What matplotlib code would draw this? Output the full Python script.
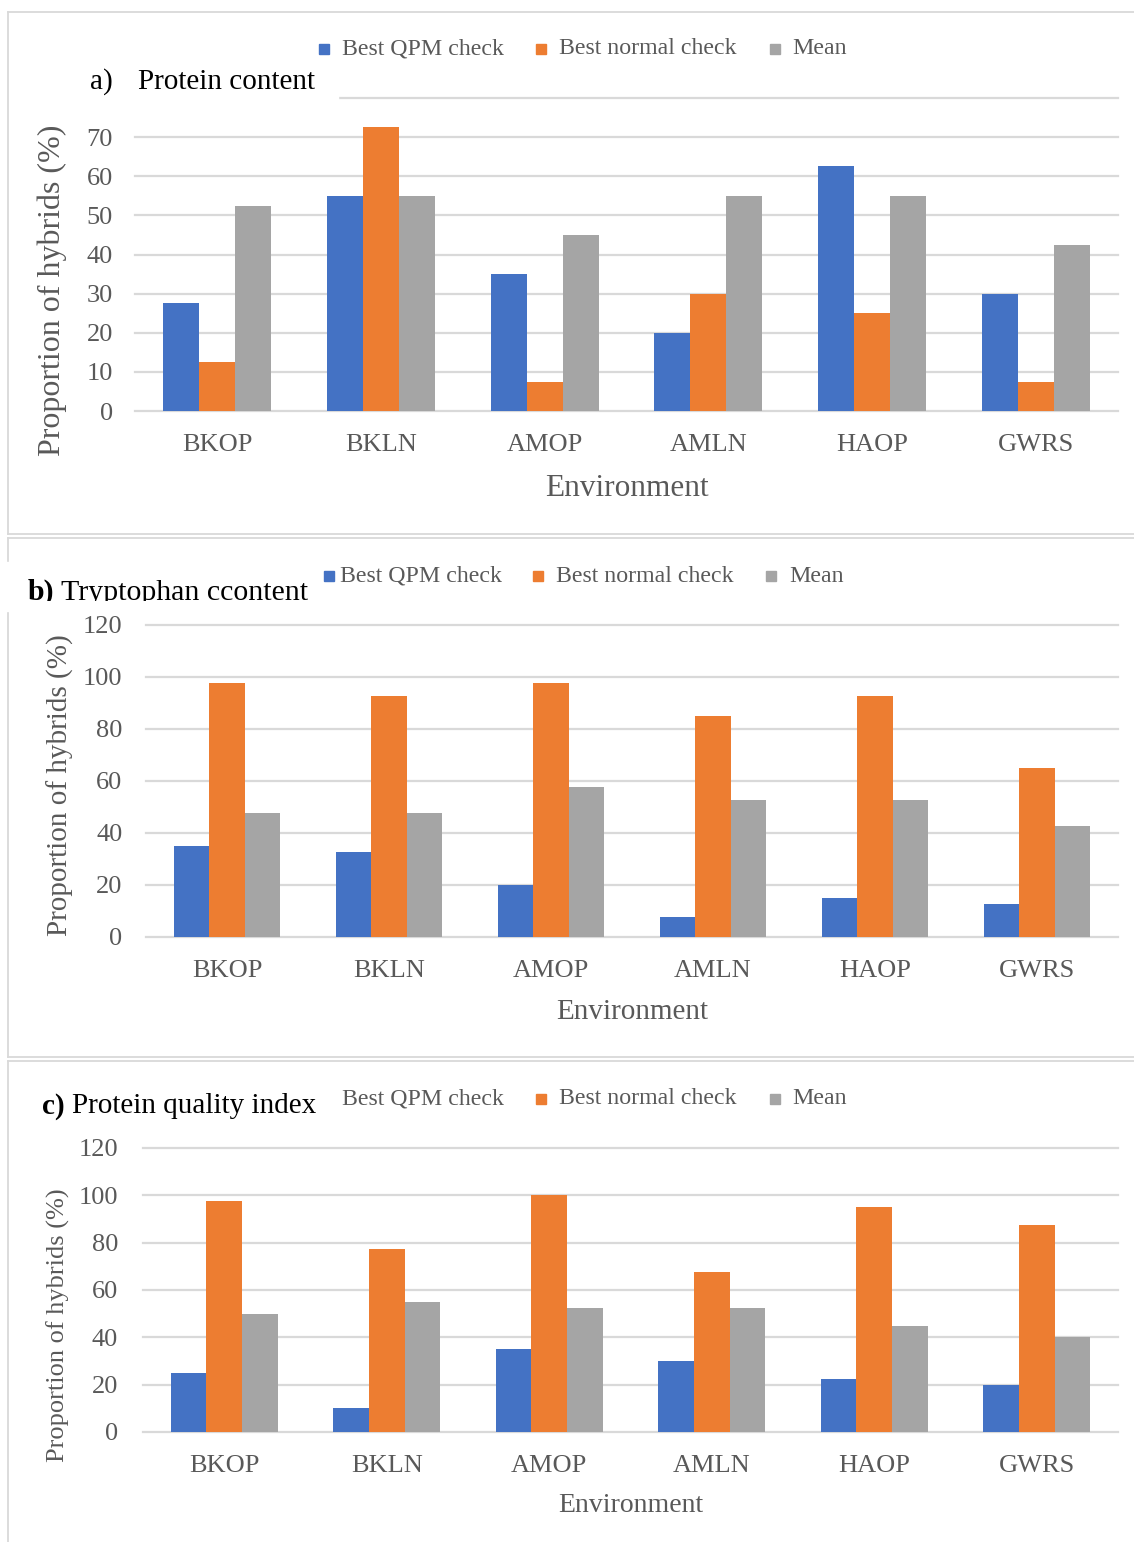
import matplotlib
matplotlib.use("Agg")
import matplotlib.pyplot as plt
from matplotlib.patches import Rectangle
from matplotlib.lines import Line2D
from matplotlib.transforms import Bbox
import numpy as np

plt.rcParams['font.family'] = ['Liberation Serif', 'DejaVu Serif']

environments = ["BKOP", "BKLN", "AMOP", "AMLN", "HAOP", "GWRS"]
series_names = ["Best QPM check", "Best normal check", "Mean"]

protein_qpm = [27.5, 55, 35, 20, 62.5, 30]
protein_normal = [12.5, 72.5, 7.5, 30, 25, 7.5]
protein_mean = [52.5, 55, 45, 55, 55, 42.5]

trp_qpm = [35, 32.5, 20, 7.5, 15, 12.5]
trp_normal = [97.5, 92.5, 97.5, 85, 92.5, 65]
trp_mean = [47.5, 47.5, 57.5, 52.5, 52.5, 42.5]

pqi_qpm = [25, 10, 35, 30, 22.5, 20]
pqi_normal = [97.5, 77.5, 100, 67.5, 95, 87.5]
pqi_mean = [50, 55, 52.5, 52.5, 45, 40]

colors = ["#4472C4", "#ED7D31", "#A5A5A5"]
GRID = "#D9D9D9"
TXT = "#595959"

W, H = 1134, 1542
fig = plt.figure(figsize=(W / 100, H / 100), dpi=100)


def fx(x):
    return x / W


def fy(y):
    return 1 - y / H


def add_axes(left, right, top, bottom):
    return fig.add_axes([fx(left), fy(bottom), (right - left) / W, (bottom - top) / H])


def draw_bars(ax, data, ymax, step, label_pad, hide_top=False):
    x = np.arange(len(environments))
    width = 0.22
    for i, (vals, c) in enumerate(zip(data, colors)):
        ax.bar(x + (i - 1) * width, vals, width, color=c, zorder=2, linewidth=0)
    ax.set_xlim(-0.5, len(environments) - 0.5)
    ax.set_ylim(0, ymax)
    ticks = np.arange(0, ymax + 1, step)
    ax.set_yticks(ticks)
    labels = [str(int(t)) for t in ticks]
    if hide_top:
        labels[-1] = ""
    ax.set_yticklabels(labels)
    ax.set_xticks(x)
    ax.set_xticklabels(environments)
    for s in ax.spines.values():
        s.set_visible(False)
    ax.set_axisbelow(True)
    ax.yaxis.grid(True, color=GRID, linewidth=1.6)
    for gl in ax.get_ygridlines():
        gl.set_clip_on(False)
    ax.tick_params(axis='both', length=0, labelsize=19, labelcolor=TXT)
    ax.tick_params(axis='y', pad=label_pad)
    ax.tick_params(axis='x', pad=16.5)


def legend_row(y, xs_box, xs_txt, show=(True, True, True)):
    for i in range(3):
        if show[i]:
            fig.patches.append(Rectangle((fx(xs_box[i]), fy(y + 5)), 10 / W, 10 / H,
                                         transform=fig.transFigure, color=colors[i], zorder=3))
        fig.text(fx(xs_txt[i]), fy(y), series_names[i], fontsize=17.2, color=TXT,
                 ha='left', va='center', zorder=3)


def hline(y, x0, x1):
    fig.add_artist(Line2D([fx(x0), fx(x1)], [fy(y), fy(y)], color=GRID, lw=1.3,
                          transform=fig.transFigure, zorder=0.5))


def vline(x, y0, y1):
    fig.add_artist(Line2D([fx(x), fx(x)], [fy(y0), fy(y1)], color=GRID, lw=1.3,
                          transform=fig.transFigure, zorder=0.5))


# panel borders
hline(12, 8, 1134); vline(8, 12, 534); hline(534, 8, 1134)
hline(538, 8, 1134); vline(8, 538, 1057); hline(1057, 8, 1134)
hline(1061, 8, 1134); vline(8, 1061, 1542)

# ---------- panel a ----------
axa = add_axes(135, 1118, 98, 411)
draw_bars(axa, [protein_qpm, protein_normal, protein_mean], 80, 10, 16, hide_top=True)
fig.text(fx(52), fy(290), "Proportion of hybrids (%)", rotation=90, fontsize=23,
         color=TXT, ha='center', va='center')
fig.text(fx(627), fy(488), "Environment", fontsize=22.5, color=TXT, ha='center', va='center')
fig.patches.append(Rectangle((fx(70), fy(118)), (338 - 70) / W, 60 / H,
                             transform=fig.transFigure, color='white', zorder=2))
fig.text(fx(90), fy(82), "a)", fontsize=21, color='black', ha='left', va='center', zorder=3)
fig.text(fx(138), fy(82), "Protein content", fontsize=21, color='black', ha='left',
         va='center', zorder=3)
legend_row(49, [319, 536, 770], [342, 559, 792])

# ---------- panel b ----------
axb = add_axes(146, 1118, 625, 937)
draw_bars(axb, [trp_qpm, trp_normal, trp_mean], 120, 20, 17)
fig.text(fx(60), fy(785), "Proportion of hybrids (%)", rotation=90, fontsize=21,
         color=TXT, ha='center', va='center')
fig.text(fx(632), fy(1012), "Environment", fontsize=21, color=TXT, ha='center', va='center')
fig.patches.append(Rectangle((fx(0), fy(611)), 312 / W, 49 / H,
                             transform=fig.transFigure, color='white', zorder=2))
clip = Bbox.from_extents(0, (H - 601), 320, (H - 555))
tb1 = fig.text(fx(28), fy(600), "b)", fontsize=21.5, fontweight='bold', color='black',
               ha='left', va='baseline', zorder=3)
tb2 = fig.text(fx(61), fy(600), "Tryptophan ccontent", fontsize=21.5, color='black',
               ha='left', va='baseline', zorder=3)
for t in (tb1, tb2):
    t.set_clip_box(clip)
    t.set_clip_on(True)
legend_row(576, [324, 533, 766], [340, 556, 789])

# ---------- panel c ----------
axc = add_axes(143, 1118, 1148, 1432)
draw_bars(axc, [pqi_qpm, pqi_normal, pqi_mean], 120, 20, 18)
fig.text(fx(58), fy(1325), "Proportion of hybrids (%)", rotation=90, fontsize=19,
         color=TXT, ha='center', va='center')
fig.text(fx(631), fy(1505), "Environment", fontsize=20, color=TXT, ha='center', va='center')
legend_row(1099, [319, 536, 770], [342, 559, 792], show=(False, True, True))
fig.text(fx(42), fy(1106), "c)", fontsize=21, fontweight='bold', color='black',
         ha='left', va='center', zorder=3)
fig.text(fx(72), fy(1106), "Protein quality index", fontsize=21, color='black',
         ha='left', va='center', zorder=3)

fig.savefig("out.png", dpi=100, facecolor='white')
